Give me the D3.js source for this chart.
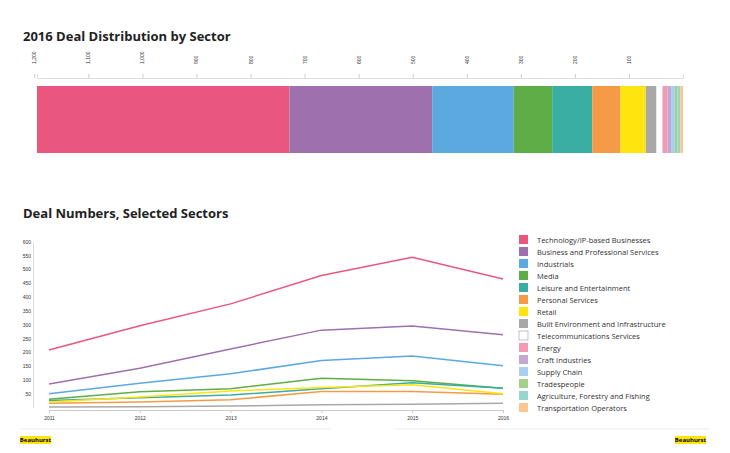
<!DOCTYPE html>
<html><head><meta charset="utf-8">
<script src="https://cdn.jsdelivr.net/npm/d3@7"></script>
<style>body{margin:0;background:#fff;font-family:"Open Sans",sans-serif}</style>
</head><body><svg id="c" width="730" height="453"></svg>
<script>
// sectors, colours and 2016 totals
let sectors = ["Technology/IP-based Businesses","Business and Professional Services","Industrials","Media",
  "Leisure and Entertainment","Personal Services","Retail","Built Environment and Infrastructure",
  "Telecommunications Services","Energy","Craft Industries","Supply Chain","Tradespeople",
  "Agriculture, Forestry and Fishing","Transportation Operators"];
let colors = ["#e9577e","#9e70ae","#5ca9e0","#5fad47","#3aaea3","#f59b47","#ffe40e","#a8a8a8",
  "#ffffff","#f49ab5","#c4a7d4","#a6cff2","#a3d18c","#96d6cf","#fcc690"];
let totals2016 = [467,264,151,71,74,52,47,20,11,9,7,7,5,5,5];
let barTicks = [100,200,300,400,500,600,700,800,900,1000,1100,1200];

let years = [2011,2012,2013,2014,2015,2016];
let lineSeries = [
  [208,296,375,478,544,465],
  [85,142,212,280,295,263],
  [50,88,122,170,186,151],
  [30,57,68,106,97,70],
  [25,35,45,68,90,70],
  [15,20,28,58,58,48],
  [20,38,60,72,82,50],
  [2,3,5,10,12,15]
];
let yTicks = [50,100,150,200,250,300,350,400,450,500,550,600];

let svg = d3.select("#c");

// titles
svg.append("text").attr("x",23).attr("y",41).text("2016 Deal Distribution by Sector")
   .attr("font-size",13).attr("font-weight","bold").attr("fill","#222");
svg.append("text").attr("x",23).attr("y",218).text("Deal Numbers, Selected Sectors")
   .attr("font-size",13).attr("font-weight","bold").attr("fill","#222");

// stacked bar (axis runs reversed: 1200 on the left)
let total = d3.sum(totals2016);
let xb = d3.scaleLinear().domain([total,0]).range([37,683]);
let barAxis = d3.axisTop(xb).tickValues(barTicks).tickSize(4);
let bg = svg.append("g").attr("transform","translate(0,78)").call(barAxis);
bg.select(".domain").attr("stroke","#ddd");
bg.selectAll(".tick line").attr("stroke","#ccc");
bg.selectAll(".tick text").attr("font-size",5).attr("fill","#333")
  .attr("transform","rotate(-90)").attr("x",6).attr("y",0).attr("dy","0.3em").attr("text-anchor","start")
  .attr("transform","rotate(-90) translate(8,0)");
let cum = 0;
let stack = totals2016.map((v,i)=>{ let s = {i:i, start:cum, end:cum+v}; cum += v; return s; });
svg.append("g").selectAll("rect").data(stack).enter().append("rect")
  .attr("x",d=>xb(total-d.start)).attr("width",d=>xb(total-d.end)-xb(total-d.start))
  .attr("y",86).attr("height",67).attr("fill",d=>colors[d.i]);

// line chart
let xl = d3.scalePoint().domain(years).range([49,503]);
let yl = d3.scaleLinear().domain([0,600]).range([407.5,241.7]);
let xg = svg.append("g").attr("transform","translate(0,410)")
  .call(d3.axisBottom(xl).tickSize(3));
xg.select(".domain").attr("stroke","#ccc");
xg.selectAll(".tick line").attr("stroke","#ccc");
xg.selectAll("text").attr("font-size",5).attr("fill","#333");
let yg = svg.append("g").attr("transform","translate(33,0)")
  .call(d3.axisLeft(yl).tickValues(yTicks).tickSize(0));
yg.select(".domain").attr("stroke","#ddd").attr("transform","translate(0,0)");
yg.selectAll("text").attr("font-size",5).attr("fill","#333").attr("x",-2);

let line = d3.line().x((d,i)=>xl(years[i])).y(d=>yl(d));
svg.append("g").selectAll("path").data(lineSeries).enter().append("path")
  .attr("d",line).attr("fill","none").attr("stroke-width",1.5)
  .attr("stroke",(d,i)=>colors[i]);

// legend
let lg = svg.append("g").selectAll("g").data(sectors).enter().append("g")
  .attr("transform",(d,i)=>`translate(519,${235+i*12})`);
lg.append("rect").attr("width",9).attr("height",9)
  .attr("fill",(d,i)=>colors[i]).attr("stroke",(d,i)=>i==8?"#999":"none").attr("stroke-width",0.6);
lg.append("text").attr("x",18).attr("y",7.5).text(d=>d).attr("font-size",7.5).attr("fill","#333");

// footer
svg.append("line").attr("x1",20).attr("x2",330).attr("y1",429).attr("y2",429).attr("stroke","#eee");
svg.append("line").attr("x1",395).attr("x2",710).attr("y1",429).attr("y2",429).attr("stroke","#eee");
[[20,436],[675,436]].forEach(p=>{
  svg.append("rect").attr("x",p[0]).attr("y",p[1]).attr("width",31).attr("height",8).attr("fill","#ffe40e");
  svg.append("text").attr("x",p[0]+15.5).attr("y",p[1]+6.3).attr("text-anchor","middle")
    .attr("font-size",6).attr("font-weight","bold").text("Beauhurst");
});
</script></body></html>
